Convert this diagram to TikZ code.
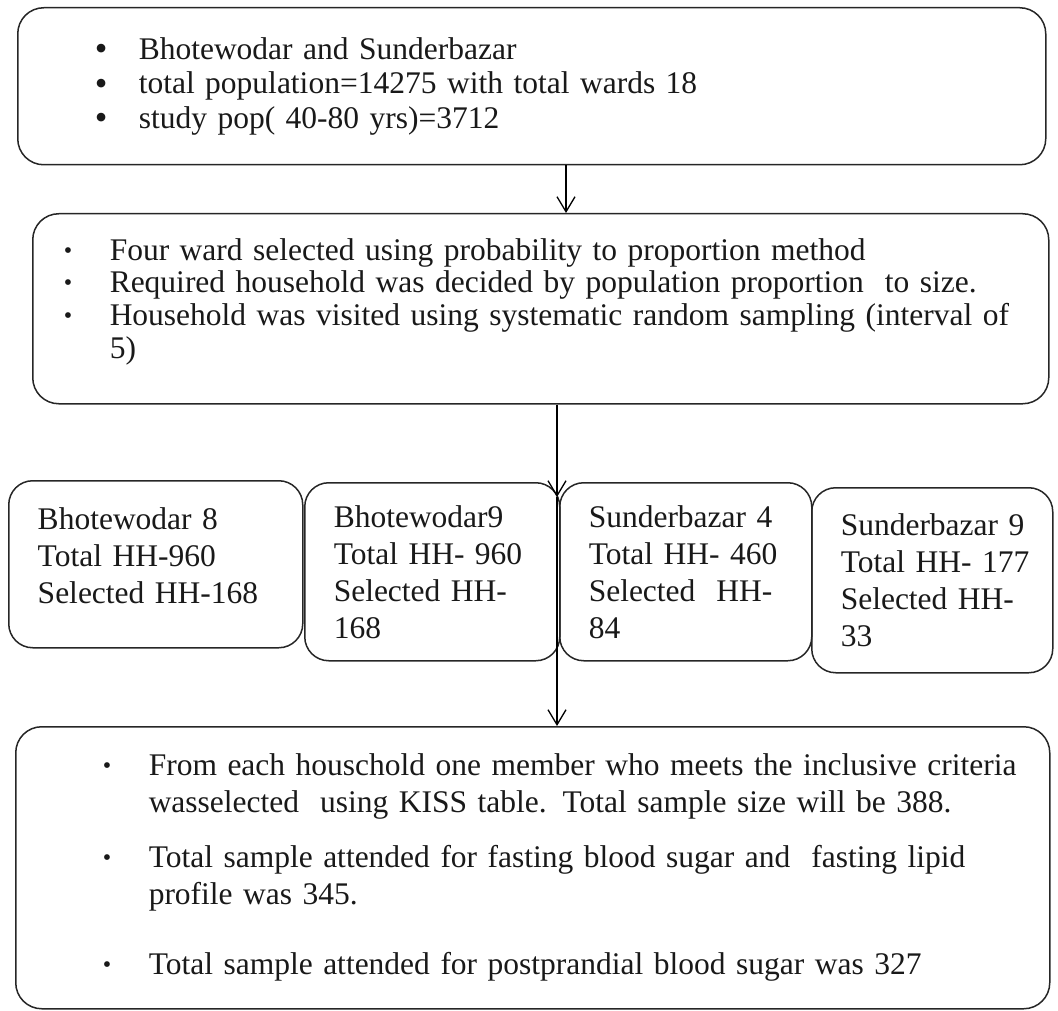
\documentclass[tikz,border=0pt]{standalone}
\usepackage{fontspec}
\setmainfont{Liberation Serif}
\usepackage{tikz}
\usetikzlibrary{arrows.meta, positioning}

\newcommand{\bitem}[1]{\makebox[44pt][l]{\raisebox{-1.5pt}{\fontsize{36}{36}\selectfont\textbullet}}\mbox{#1}}
\newcommand{\sitem}[1]{\makebox[46pt][l]{\raisebox{2pt}{\fontsize{24}{24}\selectfont\textbullet}}\mbox{#1}}

\begin{document}
\begin{tikzpicture}[x=1pt, y=-1pt,
		->,
		>={Straight Barb[length=15pt,width=18pt]},
		line width=1.3pt,
		every node/.style={text=black!90},
		listbox/.style={draw=black!85, line width=1.5pt, rounded corners=26pt,
			anchor=north west, align=left, inner ysep=0pt,
			font=\fontsize{31.5}{34.5}\selectfont},
		wardbox/.style={draw=black!85, line width=1.5pt, rounded corners=24pt,
			anchor=north west, align=left, inner xsep=29pt, inner ysep=0pt,
			font=\fontsize{31.5}{37}\selectfont}]
		
		\useasboundingbox (0,0) rectangle (1058,1011);
		
		% study area
		\node[listbox, minimum width=1028pt, minimum height=157pt, inner xsep=77pt, text width=874pt] (pop) at (17,7)
			{\bitem{Bhotewodar and Sunderbazar}\\
			 \bitem{total population=14275 with total wards 18}\\
			 \bitem{study pop( 40-80 yrs)=3712}};
		
		% sampling
		\node[listbox, font=\fontsize{31.5}{32.7}\selectfont, minimum width=1016pt, minimum height=190pt, inner xsep=31pt, text width=954pt] (sel) at (32,213)
			{\sitem{Four ward selected using probability to proportion method}\\
			 \sitem{Required household was decided by population proportion~ to size.}\\
			 \sitem{Household was visited using systematic random sampling (interval of}\\
			 \makebox[46pt]{}5)\par\vspace{14pt}};
		
		% wards
		\node[wardbox, minimum width=294pt, minimum height=167pt, text width=236pt] (wardA) at (8,480)
			{Bhotewodar 8\\ Total HH-960\\ Selected HH-168\par\vspace{18pt}};
		\node[wardbox, minimum width=255pt, minimum height=178pt, text width=197pt] (wardB) at (304,482)
			{Bhotewodar9\\ Total HH- 960\\ Selected HH-\\ 168};
		\node[wardbox, minimum width=252pt, minimum height=178pt, text width=194pt] (wardC) at (559,482)
			{Sunderbazar 4\\ Total HH- 460\\ Selected~ HH-\\ 84};
		\node[wardbox, minimum width=241pt, minimum height=185pt, text width=183pt] (wardD) at (811,487)
			{\mbox{Sunderbazar 9}\\ \mbox{Total HH- 177}\\ Selected HH-\\ 33};
		
		% final sample
		\node[listbox, font=\fontsize{31.5}{37}\selectfont, minimum width=1034pt, minimum height=282pt, inner xsep=87pt, text width=860pt] (sample) at (15,726)
			{\sitem{From each houschold one member who meets the inclusive criteria}\\
			 \makebox[46pt]{}\mbox{wasselected~ using KISS table. Total sample size will be 388.}\\[18pt]
			 \sitem{Total sample attended for fasting blood sugar and~ fasting lipid}\\
			 \makebox[46pt]{}profile was 345.\\[33pt]
			 \sitem{Total sample attended for postprandial blood sugar was 327}};
		
		\coordinate (a1) at (566,0);
		\coordinate (a2) at (557,497);
		\draw[->] (pop.south -| a1) -- (sel.north -| a1);
		\draw[->] (sel.south -| a2) -- (a2);
		\draw[->] (a2) -- (sample.north -| a2);
	\end{tikzpicture}
\end{document}
